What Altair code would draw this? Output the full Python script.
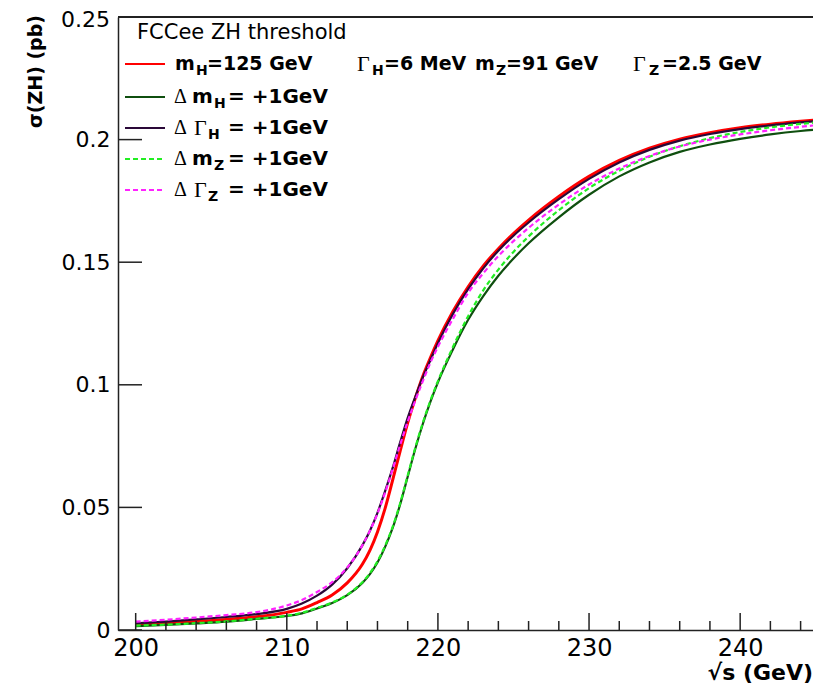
import altair as alt
import pandas as pd

# ---------------- data ----------------
energy = [200, 202, 204, 206, 208, 210, 211, 212, 213, 214, 215, 215.5, 216, 216.5,
          217, 217.5, 218, 218.5, 219, 219.5, 220, 221, 222, 223, 224, 225, 226, 228,
          230, 232, 234, 236, 238, 240, 242, 244, 245.5]

sigma_nominal = [0.0022, 0.0028, 0.0035, 0.0043, 0.0054, 0.0072, 0.0086, 0.0112, 0.0143,
                 0.0192, 0.0268, 0.0325, 0.0400, 0.0495, 0.061, 0.073, 0.0845, 0.0945, 0.1035,
                 0.111, 0.118, 0.130, 0.140, 0.1485, 0.1555, 0.1617, 0.1672, 0.1768, 0.1850,
                 0.1915, 0.1965, 0.2002, 0.2028, 0.2048, 0.2063, 0.2075, 0.2083]

sigma_dmH = [0.0016, 0.0021, 0.0027, 0.0034, 0.0045, 0.0057, 0.0068, 0.0088, 0.011,
             0.0142, 0.0192, 0.0228, 0.0275, 0.0338, 0.0415, 0.0512, 0.0625, 0.0738, 0.084,
             0.093, 0.101, 0.1145, 0.1265, 0.1362, 0.1445, 0.1515, 0.1577, 0.1683, 0.1775,
             0.1850, 0.1907, 0.1950, 0.1980, 0.2003, 0.2021, 0.2035, 0.2043]

sigma_dGH = [0.0027, 0.0034, 0.0043, 0.0053, 0.0065, 0.0086, 0.0108, 0.0140, 0.0185,
             0.0252, 0.0345, 0.0405, 0.0478, 0.0565, 0.066, 0.0765, 0.0865, 0.095, 0.103,
             0.110, 0.117, 0.129, 0.139, 0.1475, 0.1547, 0.1608, 0.1662, 0.1757, 0.1840,
             0.1907, 0.1958, 0.1996, 0.2023, 0.2043, 0.2058, 0.2070, 0.2078]

sigma_dmZ = [0.0018, 0.0022, 0.0028, 0.0035, 0.0046, 0.0058, 0.007, 0.009, 0.0112,
             0.0144, 0.0195, 0.0232, 0.028, 0.0343, 0.042, 0.0517, 0.063, 0.0743, 0.0845,
             0.0935, 0.1015, 0.1155, 0.128, 0.1385, 0.147, 0.1542, 0.1605, 0.1712, 0.1802,
             0.1873, 0.1930, 0.1973, 0.2006, 0.2031, 0.2050, 0.2064, 0.2073]

sigma_dGZ = [0.0034, 0.0042, 0.0051, 0.0061, 0.0073, 0.0100, 0.0122, 0.0155, 0.0195,
             0.0255, 0.0345, 0.0405, 0.0475, 0.056, 0.0655, 0.0755, 0.085, 0.0935, 0.1015,
             0.109, 0.1155, 0.127, 0.1375, 0.1455, 0.1525, 0.1586, 0.1640, 0.1735, 0.1817,
             0.1882, 0.1933, 0.1972, 0.2000, 0.2021, 0.2038, 0.2052, 0.2062]

x_major_ticks = [200, 210, 220, 230, 240]
x_minor_ticks = [202, 204, 206, 208, 212, 214, 216, 218, 222, 224, 226, 228,
                 232, 234, 236, 238, 242, 244]
y_ticks = [0, 0.05, 0.1, 0.15, 0.2, 0.25]
y_top_label = ["0.25"]

# ---------------- layout ----------------
W, H = 695, 613
SANS = "DejaVu Sans"
SERIF = "Liberation Serif"
AXC = "#222222"

xscale = alt.Scale(domain=[198.83, 244.82], nice=False, zero=False)
yscale = alt.Scale(domain=[0, 0.25], nice=False, zero=False)

rows = []
for name, vals in [("nominal", sigma_nominal), ("dmH", sigma_dmH), ("dGH", sigma_dGH),
                   ("dmZ", sigma_dmZ), ("dGZ", sigma_dGZ)]:
    for e, s in zip(energy, vals):
        rows.append({"E": e, "sigma": s, "series": name})
df = pd.DataFrame(rows)

styles = {
    "nominal": dict(color="#ff0000", strokeWidth=3.0),
    "dmH": dict(color="#0f4f0f", strokeWidth=2.2),
    "dGH": dict(color="#2a0838", strokeWidth=2.2),
    "dmZ": dict(color="#22ee22", strokeWidth=2.2, strokeDash=[5, 3]),
    "dGZ": dict(color="#ff22ff", strokeWidth=2.2, strokeDash=[5, 3]),
}

x_axis = alt.Axis(values=x_major_ticks, ticks=False, grid=False, title=None,
                  labelFont=SANS, labelFontSize=24, labelColor="black", labelPadding=6,
                  labelFlush=False, domainColor=AXC, domainWidth=1.5, format="d")
y_axis = alt.Axis(values=y_ticks, ticks=False, grid=False, title=None,
                  labelFont=SANS, labelFontSize=22, labelColor="black", labelPadding=8,
                  labelFlush=False, domainColor=AXC, domainWidth=1.5, format="~g",
                  labelExpr="datum.value > 0.249 ? '' : datum.label")

X = lambda f: alt.X(f, scale=xscale, axis=x_axis)
Y = lambda f: alt.Y(f, scale=yscale, axis=y_axis)

layers = []
for name in ["nominal", "dmH", "dGH", "dmZ", "dGZ"]:
    st = styles[name]
    layers.append(
        alt.Chart(df).transform_filter(alt.datum.series == name)
        .mark_line(clip=True, interpolate="monotone", **st)
        .encode(x=X("E:Q"), y=Y("sigma:Q"))
    )

# ticks (drawn inward, as in ROOT)
major_df = pd.DataFrame({"E": x_major_ticks})
minor_df = pd.DataFrame({"E": x_minor_ticks})
ytick_df = pd.DataFrame({"v": y_ticks})
layers.append(alt.Chart(major_df).mark_rule(color=AXC, strokeWidth=1.5).encode(
    x=X("E:Q"), y=alt.value(H), y2=alt.value(H - 17)))
layers.append(alt.Chart(minor_df).mark_rule(color=AXC, strokeWidth=1.5).encode(
    x=X("E:Q"), y=alt.value(H), y2=alt.value(H - 9)))
layers.append(alt.Chart(ytick_df).mark_rule(color=AXC, strokeWidth=1.5).encode(
    y=Y("v:Q"), x=alt.value(0), x2=alt.value(24)))
# top tick label, nudged down a little so it is not clipped
layers.append(alt.Chart(pd.DataFrame({"v": [y_ticks[-1]], "t": y_top_label})).mark_text(
    align="right", baseline="middle", dy=3, font=SANS, fontSize=22, color="black").encode(
    y=Y("v:Q"), x=alt.value(-8), text="t:N"))
# top frame line
layers.append(alt.Chart(major_df).mark_rule(color=AXC, strokeWidth=1.5).encode(
    x=alt.value(0), x2=alt.value(W), y=alt.value(0)))


def txt(text, x, y, size=20, bold=True, font=SANS, align="left", angle=0):
    kw = dict(align=align, baseline="middle", font=font, fontSize=size,
              fontWeight="bold" if bold else "normal", color="black")
    if angle:
        kw["angle"] = angle
    return alt.Chart(pd.DataFrame({"t": [text]})).mark_text(**kw).encode(
        text="t:N", x=alt.value(x), y=alt.value(y))


# legend
OX, OY = 118, 17  # page offset of plot origin
layers.append(txt("FCCee ZH threshold", 137 - OX, 33 - OY, size=21, bold=False))

row_y = [64, 97, 128, 159, 190]
for (name, yy) in zip(["nominal", "dmH", "dGH", "dmZ", "dGZ"], row_y):
    st = dict(styles[name])
    st["strokeWidth"] = 2.0
    layers.append(alt.Chart(major_df).mark_rule(**st).encode(
        x=alt.value(125 - OX), x2=alt.value(165 - OX), y=alt.value(yy - OY)))

SUB = 7
SUBSIZE = 14
R1 = 19
r = row_y[0] - OY
pieces = [
    txt("m", 175 - OX, r, size=R1), txt("H", 196 - OX, r + SUB, size=SUBSIZE),
    txt("=125 GeV", 207 - OX, r, size=R1),
    txt("Γ", 357 - OX, r, size=22, bold=False, font=SERIF), txt("H", 372 - OX, r + SUB, size=SUBSIZE),
    txt("=6 MeV", 384 - OX, r, size=R1),
    txt("m", 475 - OX, r, size=R1), txt("Z", 496 - OX, r + SUB, size=SUBSIZE),
    txt("=91 GeV", 506 - OX, r, size=R1),
    txt("Γ", 633 - OX, r, size=22, bold=False, font=SERIF), txt("Z", 649 - OX, r + SUB, size=SUBSIZE),
    txt("=2.5 GeV", 662 - OX, r, size=R1),
]
layers.extend(pieces)

for yy, sym, sub in [(row_y[1], "m", "H"), (row_y[2], "Γ", "H"), (row_y[3], "m", "Z"), (row_y[4], "Γ", "Z")]:
    r = yy - OY
    layers.append(txt("Δ", 174 - OX, r, size=20, bold=False, font=SERIF))
    if sym == "m":
        layers.append(txt("m", 192 - OX, r))
        layers.append(txt(sub, 214 - OX, r + SUB, size=SUBSIZE))
    else:
        layers.append(txt("Γ", 194 - OX, r, size=22, bold=False, font=SERIF))
        layers.append(txt(sub, 208 - OX, r + SUB, size=SUBSIZE))
    layers.append(txt("= +1GeV", 228 - OX, r))

# axis titles
layers.append(txt("√s (GeV)", W, 673 - OY, size=22, align="right"))
layers.append(txt("σ(ZH) (pb)", 36 - OX, -2, size=19, align="right", angle=270))

chart = alt.layer(*layers).properties(
    width=W, height=H,
    padding={"left": 110, "top": 9, "right": 0, "bottom": 56},
    autosize=alt.AutoSizeParams(type="none"),
).configure_view(stroke=None)

chart.save("out.html", embed_options={"renderer": "svg", "actions": False})
